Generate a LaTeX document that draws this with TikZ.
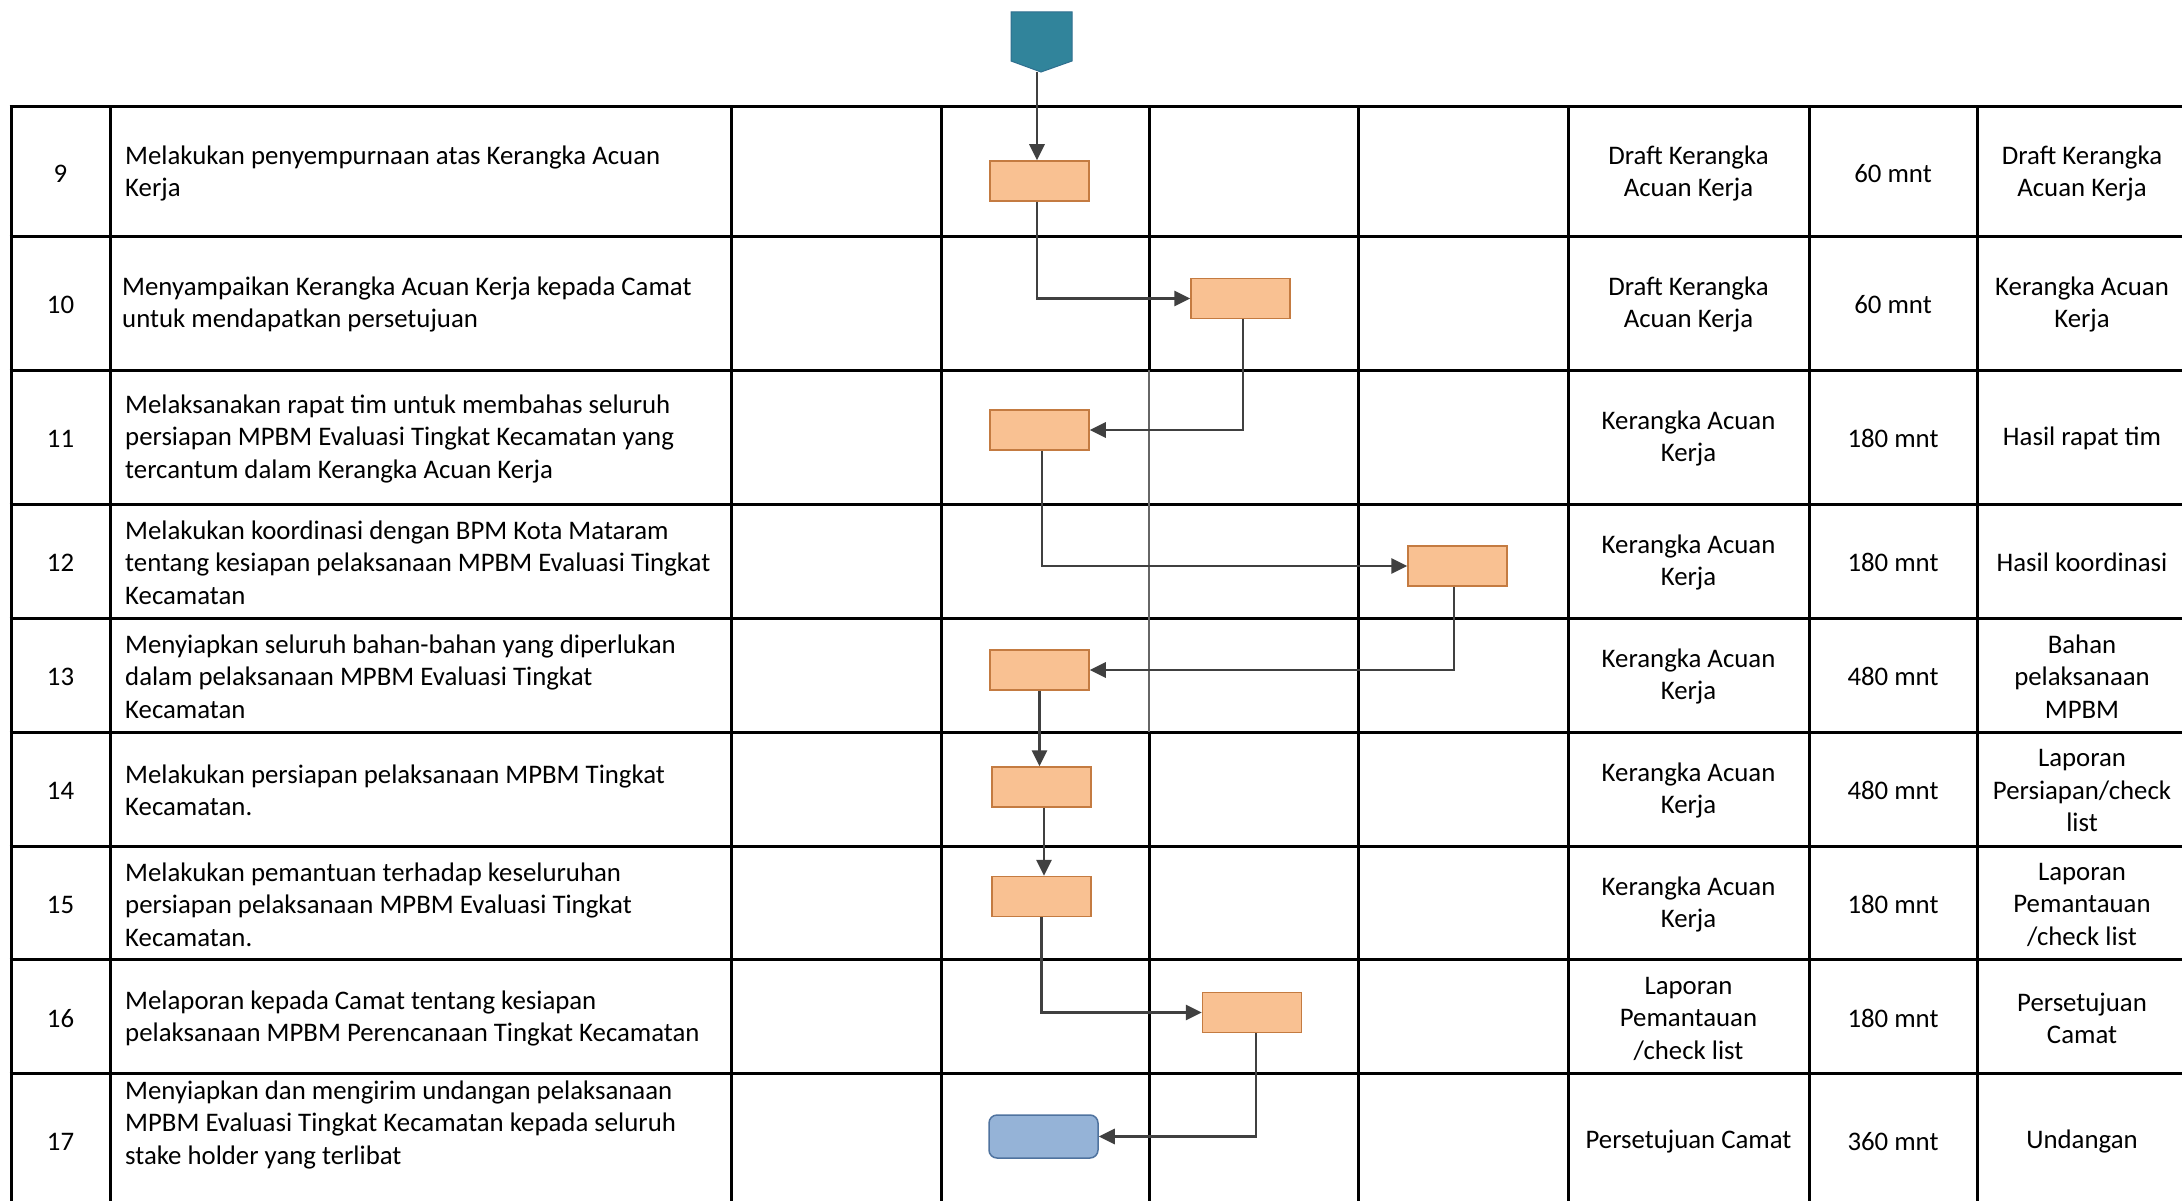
\documentclass[tikz,border=0pt]{standalone}
\usepackage{fontspec}
\setmainfont{Carlito}
\usetikzlibrary{arrows.meta}
\definecolor{oFill}{HTML}{F9C192}
\definecolor{oDraw}{HTML}{C47B41}
\definecolor{bFill}{HTML}{95B3D7}
\definecolor{bDraw}{HTML}{4F739F}
\definecolor{tFill}{HTML}{31849B}
\definecolor{tDraw}{HTML}{2F6F8F}
\definecolor{connc}{HTML}{404040}
\begin{document}
\begin{tikzpicture}[x=1pt,y=-1pt,
 grid/.style={line width=3pt,black},
 obox/.style={draw=oDraw,fill=oFill,line width=1.5pt,minimum width=99pt,minimum height=40pt,inner sep=0pt},
 ebox/.style={draw=bDraw,fill=bFill,line width=1.5pt,rounded corners=8pt,minimum width=109pt,minimum height=43pt,inner sep=0pt},
 arr/.style={draw=connc,line width=2.8pt,-{Triangle[length=16pt,width=15pt]}},
 txt/.style={font=\fontsize{26.8}{32.5}\selectfont,inner sep=0pt,yshift=-1.5pt},
 desc/.style={txt,anchor=west,align=left},
 ctr/.style={txt,align=center}]
\useasboundingbox[fill=white] (0,0) rectangle (2182,1201);
% grid
\foreach \yy in {107,237,370,504,618,732,846,959,1073}
  \draw[grid] (9.5,\yy) -- (2182,\yy);
\foreach \xx in {11,110,731,941,1358,1568,1809,1977}
  \draw[grid] (\xx,107) -- (\xx,1201);
\draw[grid] (1149,107) -- (1149,370);
\draw[line width=2pt,black!60] (1149,370) -- (1149,732);
\draw[grid] (1149,732) -- (1149,1201);
% start shape
\filldraw[fill=tFill,draw=tDraw,line width=1pt] (1011,12) -- (1072,12) -- (1072,61) -- (1041,72) -- (1011,61) -- cycle;
\coordinate (start) at (1037,72);
% boxes
\node[obox] (b9) at (1039.5,181) {};
\node[obox] (b10) at (1240.5,298.5) {};
\node[obox] (b11) at (1039.5,430) {};
\node[obox] (b12) at (1457.5,566) {};
\node[obox] (b13) at (1039.5,670) {};
\node[obox] (b14) at (1041.5,787) {};
\node[obox] (b15) at (1041.5,896.5) {};
\node[obox] (b16) at (1252,1012.5) {};
\node[ebox] (b17) at (1043.5,1136.5) {};
% connectors
\draw[arr] (start) -- (start |- b9.north);
\draw[arr] ([xshift=-2.5pt]b9.south) |- (b10.west);
\draw[arr] ([xshift=2.5pt]b10.south) |- (b11.east);
\draw[arr] ([xshift=2.5pt]b11.south) |- (b12.west);
\draw[arr] ([xshift=-3.5pt]b12.south) |- (b13.east);
\draw[arr] (b13.south) -- (b13.south |- b14.north);
\draw[arr] ([xshift=2.5pt]b14.south) -- ([xshift=2.5pt]b14.south |- b15.north);
\draw[arr] (b15.south) |- (b16.west);
\draw[arr] ([xshift=4pt]b16.south) |- (b17.east);
% numbers
\node[ctr] (n9) at (60.5,172) {9};
\node[ctr] (n10) at (60.5,303) {10};
\node[ctr] (n11) at (60.5,437) {11};
\node[ctr] (n12) at (60.5,561) {12};
\node[ctr] (n13) at (60.5,675) {13};
\node[ctr] (n14) at (60.5,789) {14};
\node[ctr] (n15) at (60.5,903) {15};
\node[ctr] (n16) at (60.5,1017) {16};
\node[ctr] (n17) at (60.5,1140) {17};
% descriptions
\node[desc] (d9) at (125,172) {Melakukan penyempurnaan atas Kerangka Acuan\\Kerja};
\node[desc] (d10) at (122,303) {Menyampaikan Kerangka Acuan Kerja kepada Camat\\untuk mendapatkan persetujuan};
\node[desc] (d11) at (125,437) {Melaksanakan rapat tim untuk membahas seluruh\\persiapan MPBM Evaluasi Tingkat Kecamatan yang\\tercantum dalam Kerangka Acuan Kerja};
\node[desc] (d12) at (125,561) {Melakukan koordinasi dengan BPM Kota Mataram\\tentang kesiapan pelaksanaan MPBM Evaluasi Tingkat\\Kecamatan};
\node[desc] (d13) at (125,675) {Menyiapkan seluruh bahan-bahan yang diperlukan\\dalam pelaksanaan MPBM Evaluasi Tingkat\\Kecamatan};
\node[desc] (d14) at (125,789) {Melakukan persiapan pelaksanaan MPBM Tingkat\\Kecamatan.};
\node[desc] (d15) at (125,903) {Melakukan pemantuan terhadap keseluruhan\\persiapan pelaksanaan MPBM Evaluasi Tingkat\\Kecamatan.};
\node[desc] (d16) at (125,1017) {Melaporan kepada Camat tentang kesiapan\\pelaksanaan MPBM Perencanaan Tingkat Kecamatan};
\node[desc] (d17) at (125,1123) {Menyiapkan dan mengirim undangan pelaksanaan\\MPBM Evaluasi Tingkat Kecamatan kepada seluruh\\stake holder yang terlibat};
% inputs
\node[ctr] (i9) at (1688.5,172) {Draft Kerangka\\Acuan Kerja};
\node[ctr] (i10) at (1688.5,303) {Draft Kerangka\\Acuan Kerja};
\node[ctr] (i11) at (1688.5,437) {Kerangka Acuan\\Kerja};
\node[ctr] (i12) at (1688.5,561) {Kerangka Acuan\\Kerja};
\node[ctr] (i13) at (1688.5,675) {Kerangka Acuan\\Kerja};
\node[ctr] (i14) at (1688.5,789) {Kerangka Acuan\\Kerja};
\node[ctr] (i15) at (1688.5,903) {Kerangka Acuan\\Kerja};
\node[ctr] (i16) at (1688.5,1017) {Laporan\\Pemantauan\\/check list};
\node[ctr] (i17) at (1688.5,1140) {Persetujuan Camat};
% times
\node[ctr] (t9) at (1893,172) {60 mnt};
\node[ctr] (t10) at (1893,303) {60 mnt};
\node[ctr] (t11) at (1893,437) {180 mnt};
\node[ctr] (t12) at (1893,561) {180 mnt};
\node[ctr] (t13) at (1893,675) {480 mnt};
\node[ctr] (t14) at (1893,789) {480 mnt};
\node[ctr] (t15) at (1893,903) {180 mnt};
\node[ctr] (t16) at (1893,1017) {180 mnt};
\node[ctr] (t17) at (1893,1140) {360 mnt};
% outputs
\node[ctr] (o9) at (2082,172) {Draft Kerangka\\Acuan Kerja};
\node[ctr] (o10) at (2082,303) {Kerangka Acuan\\Kerja};
\node[ctr] (o11) at (2082,437) {Hasil rapat tim};
\node[ctr] (o12) at (2082,561) {Hasil koordinasi};
\node[ctr] (o13) at (2082,675) {Bahan\\pelaksanaan\\MPBM};
\node[ctr] (o14) at (2082,789) {Laporan\\Persiapan/check\\list};
\node[ctr] (o15) at (2082,903) {Laporan\\Pemantauan\\/check list};
\node[ctr] (o16) at (2082,1017) {Persetujuan\\Camat};
\node[ctr] (o17) at (2082,1140) {Undangan};
\end{tikzpicture}
\end{document}
